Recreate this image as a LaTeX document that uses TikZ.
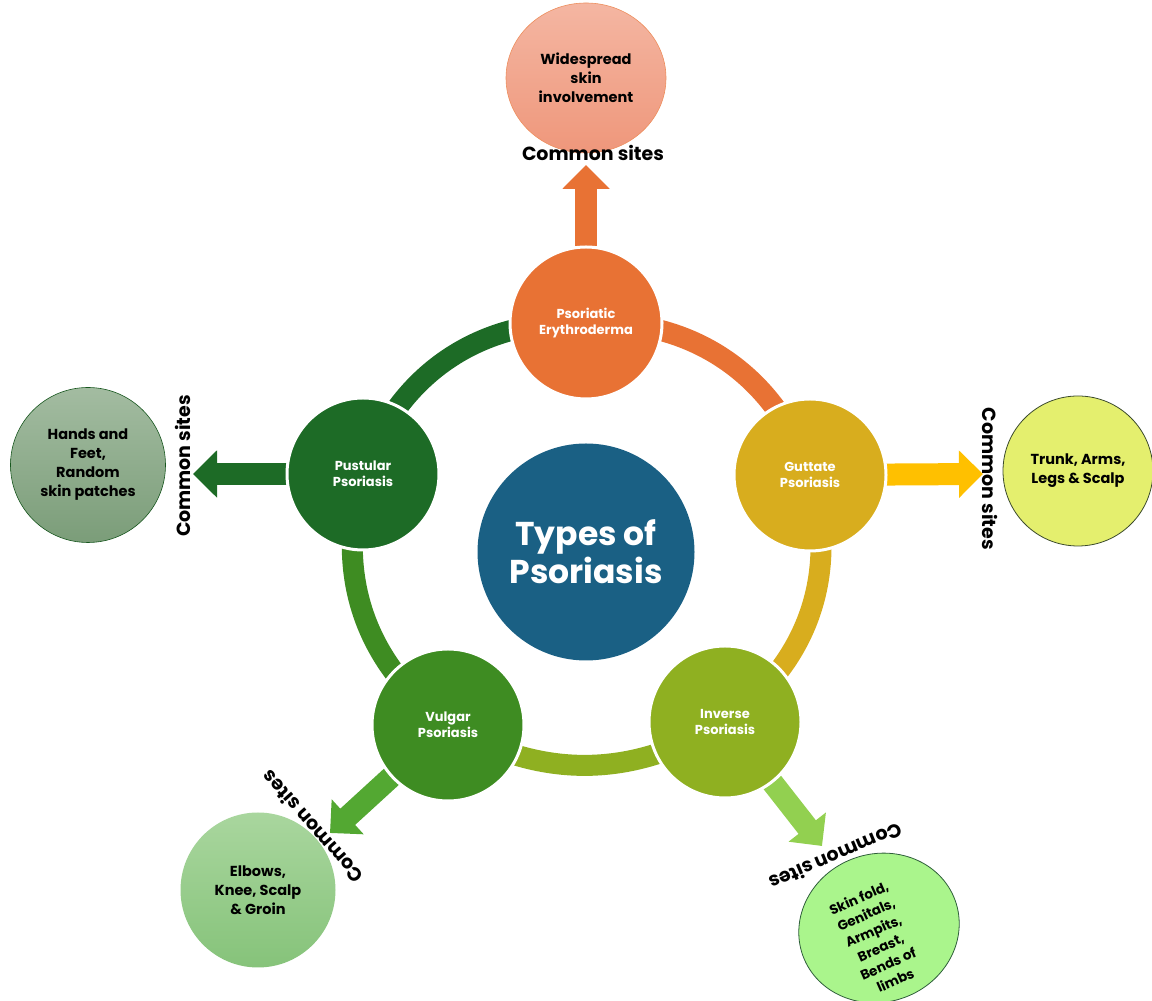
\documentclass[tikz,border=0pt]{standalone}
\usepackage{fontspec}
\setmainfont{Poppins}
\usetikzlibrary{arrows.meta,backgrounds,shapes.geometric}
\definecolor{cCtr}{HTML}{1A6084}
\definecolor{cPso}{HTML}{E87234}
\definecolor{cGut}{HTML}{D8AD1E}
\definecolor{cInv}{HTML}{8FB021}
\definecolor{cVul}{HTML}{3E8C22}
\definecolor{cPus}{HTML}{1D6B26}
\definecolor{cArrR}{HTML}{FFC000}
\definecolor{cArrBL}{HTML}{53A832}
\definecolor{cArrBR}{HTML}{92D050}
\definecolor{wTop}{HTML}{F4B6A2}
\definecolor{wBot}{HTML}{EF977B}
\definecolor{hTop}{HTML}{A3BCA1}
\definecolor{hBot}{HTML}{7B9D79}
\definecolor{tFill}{HTML}{E4EF6E}
\definecolor{tLine}{HTML}{3B4A2C}
\definecolor{eTop}{HTML}{A9D69E}
\definecolor{eBot}{HTML}{86C37A}
\definecolor{sFill}{HTML}{AAF58C}
\definecolor{sLine}{HTML}{2E5E3A}
\begin{document}
\begin{tikzpicture}[x=1pt,y=1pt,
  typenode/.style={circle,minimum size=152pt,inner sep=0pt,draw=white,line width=3pt,
    text=white,align=center,font=\bfseries\fontsize{13}{16}\selectfont},
  seg/.style={line width=21pt},
  fat/.style={line width=22pt,-{Triangle[width=46pt,length=24pt]}},
  sitebox/.style={circle,inner sep=0pt,align=center,text=black,
    font=\bfseries\fontsize{14.5}{19}\selectfont},
  sitelbl/.style={text=black,font=\bfseries\fontsize{19}{22}\selectfont,inner sep=0pt}]
\useasboundingbox (0,0) rectangle (1152,1001);
% ring nodes
\node[typenode,fill=cPso] (pso) at (586,678) {Psoriatic\\Erythroderma};
\node[typenode,fill=cGut] (gut) at (810,526) {Guttate\\Psoriasis};
\node[typenode,fill=cInv] (inv) at (725,279) {Inverse\\Psoriasis};
\node[typenode,fill=cVul] (vul) at (448,276) {Vulgar\\Psoriasis};
\node[typenode,fill=cPus] (pus) at (363,527) {Pustular\\Psoriasis};
% centre
\node[circle,minimum size=217pt,inner sep=0pt,fill=cCtr,text=white,align=center,
  font=\bfseries\fontsize{33}{38}\selectfont] (ctr) at (586,449) {Types of\\Psoriasis};
% outer site circles
\node[sitebox,ellipse,minimum width=160pt,minimum height=150pt,draw=cPso!80,line width=0.6pt,
  top color=wTop, bottom color=wBot] (wide) at (586,923) {Widespread\\skin\\involvement};
\node[sitebox,minimum size=155pt,draw=cPus!80!black,line width=0.6pt,
  top color=hTop, bottom color=hBot] (hand) at (88,536) {Hands and\\Feet,\\Random\\skin patches};
\node[sitebox,minimum size=150pt,draw=tLine,line width=0.8pt,fill=tFill] (trunk) at (1078,530) {Trunk, Arms,\\Legs \& Scalp};
\node[sitebox,minimum size=155pt,
  top color=eTop, bottom color=eBot] (elb) at (258,111) {Elbows,\\Knee, Scalp\\\& Groin};
\node[ellipse,inner sep=0pt,minimum width=162pt,minimum height=148pt,rotate=20,
  draw=sLine,line width=0.8pt,fill=sFill] (skin) at (879,73) {};
\node[sitebox,rotate=24,font=\bfseries\fontsize{13.5}{18}\selectfont] (skintxt) at (877,62) {Skin fold,\\Genitals,\\Armpits,\\Breast,\\Bends of\\limbs};
% common sites labels
\node[sitelbl] (lTop) at (593,848) {Common sites};
\node[sitelbl,rotate=90] (lLeft) at (183,535) {Common sites};
\node[sitelbl,rotate=-90] (lRight) at (990,522) {Common sites};
\node[sitelbl,rotate=131.5] (lBL) at (312,174) {Common sites};
\node[sitelbl,rotate=203] (lBR) at (836,144) {Common sites};
% arrow end points
\coordinate (aTop) at (586,836);
\coordinate (aLeft) at (193,527);
\coordinate (aRight) at (983,527);
\coordinate (aBL) at (330,168);
\coordinate (aBR) at (822,155);
\begin{pgfonlayer}{background}
  % ring segments
  \draw[seg,draw=cPso] (pso.center) to[bend left=37] (gut.center);
  \draw[seg,draw=cGut] (gut.center) to[bend left=36] (inv.center);
  \draw[seg,draw=cInv] (inv.center) to[bend left=31] (vul.center);
  \draw[seg,draw=cVul] (vul.center) to[bend left=35] (pus.center);
  \draw[seg,draw=cPus] (pus.center) to[bend left=37] (pso.center);
  % arrows
  \draw[fat,draw=cPso,fill=cPso] (pso.center) -- (aTop);
  \draw[fat,draw=cPus,fill=cPus] (pus.center) -- (aLeft);
  \draw[fat,draw=cArrR,fill=cArrR] (gut.center) -- (aRight);
  \draw[fat,draw=cArrBL,fill=cArrBL] (vul.center) -- (aBL);
  \draw[fat,draw=cArrBR,fill=cArrBR] (inv.center) -- (aBR);
\end{pgfonlayer}
\end{tikzpicture}
\end{document}
